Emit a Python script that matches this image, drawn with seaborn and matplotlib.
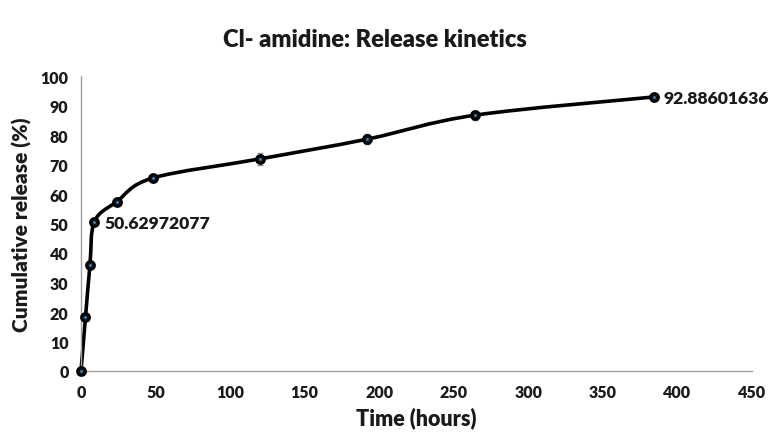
import numpy as np
import pandas as pd
import matplotlib
matplotlib.use("Agg")
import matplotlib.pyplot as plt
import seaborn as sns
from matplotlib.path import Path
from matplotlib.patches import PathPatch

time_h = [0, 3, 6, 9, 24, 48, 120, 192, 264, 384]
release = [0, 18.2, 35.9, 50.62972077, 57.4, 65.4, 71.9, 78.6, 86.7, 92.88601636]
sd = [0, 0.8, 0.8, 0.8, 0.9, 1.0, 2.0, 1.6, 1.6, 0.8]
labels = {3: "50.62972077", 9: "92.88601636"}
x_ticks = [0, 50, 100, 150, 200, 250, 300, 350, 400, 450]
y_ticks = [0, 10, 20, 30, 40, 50, 60, 70, 80, 90, 100]

df = pd.DataFrame({"Time (hours)": time_h, "Cumulative release (%)": release, "sd": sd})

sns.set_theme(style="white")
plt.rcParams["font.family"] = ["Lato", "DejaVu Sans"]
plt.rcParams["font.weight"] = "bold"

fig = plt.figure(figsize=(7.74, 4.35), dpi=100)
ax = fig.add_axes([81 / 774, 1 - 372 / 435, (752 - 81) / 774, (372 - 77) / 435])

# smooth line (Catmull-Rom style Bezier through the data points, like Excel smoothing)
P = np.column_stack([df["Time (hours)"].values, df["Cumulative release (%)"].values]).astype(float)
n = len(P)
verts = [tuple(P[0])]
codes = [Path.MOVETO]
for i in range(n - 1):
    p0 = P[i - 1] if i > 0 else P[i]
    p1 = P[i]
    p2 = P[i + 1]
    p3 = P[i + 2] if i + 2 < n else P[i + 1]
    c1 = p1 + (p2 - p0) / 6.0
    c2 = p2 - (p3 - p1) / 6.0
    verts += [tuple(c1), tuple(c2), tuple(p2)]
    codes += [Path.CURVE4] * 3
ax.add_patch(PathPatch(Path(verts, codes), facecolor="none", edgecolor="black", lw=2.6,
                       capstyle="round", joinstyle="round", zorder=2))

ax.errorbar(df["Time (hours)"], df["Cumulative release (%)"], yerr=df["sd"], fmt="none",
            ecolor="#8c8c8c", elinewidth=1, capsize=2.5, capthick=1, zorder=1)

sns.scatterplot(data=df, x="Time (hours)", y="Cumulative release (%)", ax=ax, s=38,
                color="#111111", edgecolor="black", linewidth=1.6, zorder=3, legend=False)
sns.scatterplot(data=df, x="Time (hours)", y="Cumulative release (%)", ax=ax, s=4,
                color="#2a8fd6", linewidth=0, zorder=4, legend=False)

for idx, txt in labels.items():
    ax.annotate(txt, (time_h[idx], release[idx]), xytext=(7, -1), textcoords="offset points",
                ha="left", va="center", fontsize=12.6, fontweight="heavy", color="#1a1a1a")

ax.set_xlim(0, 450)
ax.set_ylim(0, 100)
ax.set_xticks(x_ticks)
ax.set_yticks(y_ticks)
ax.tick_params(axis="both", direction="out", length=4, width=1, color="#a0a0a0",
               labelsize=11.5, labelcolor="#1a1a1a", pad=5)
for lab in ax.get_xticklabels() + ax.get_yticklabels():
    lab.set_fontweight("heavy")
for side in ["top", "right"]:
    ax.spines[side].set_visible(False)
for side in ["left", "bottom"]:
    ax.spines[side].set_color("#a0a0a0")
    ax.spines[side].set_linewidth(1)
ax.set_xlabel("Time (hours)", fontsize=15.5, fontweight="heavy", color="#1a1a1a", labelpad=5)
ax.set_ylabel("Cumulative release (%)", fontsize=15, fontweight="heavy", color="#1a1a1a", labelpad=6)
for c in ax.collections:
    c.set_clip_on(False)
for p in ax.patches:
    p.set_clip_on(False)

fig.text(375 / 774, 1 - 40 / 435, "Cl- amidine: Release kinetics", ha="center", va="center",
         fontsize=17, fontweight="heavy", color="#1a1a1a")

fig.savefig("out.png", dpi=100)
